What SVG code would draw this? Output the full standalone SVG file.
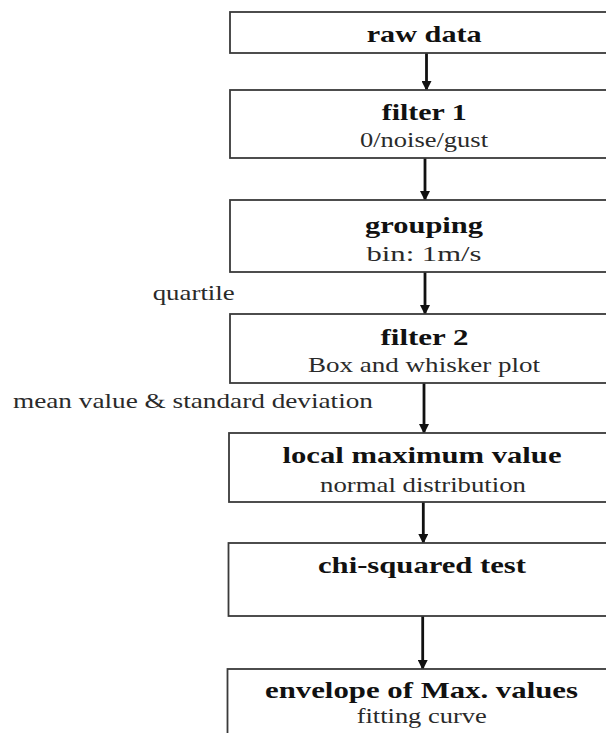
<svg xmlns="http://www.w3.org/2000/svg" width="606" height="733" viewBox="0 0 606 733">
  <style>
    .box { fill: #ffffff; stroke: #3a3a3a; stroke-width: 1.8; }
    .title { font-family: "Liberation Serif", serif; font-weight: bold; font-size: 24px; fill: #111; text-anchor: middle; }
    .sub { font-family: "Liberation Serif", serif; font-size: 22px; fill: #2a2a2a; text-anchor: middle; }
    .note { font-family: "Liberation Serif", serif; font-size: 22px; fill: #2a2a2a; }
    .link { stroke: #111; stroke-width: 2.8; fill: none; marker-end: url(#head); }
  </style>
  <defs>
    <marker id="head" viewBox="0 0 10 10" refX="9" refY="5" markerUnits="userSpaceOnUse" markerWidth="10" markerHeight="10" orient="auto">
      <path d="M0,0 L10,5 L0,10 z" fill="#111"/>
    </marker>
  </defs>
  <rect width="606" height="733" fill="#ffffff"/>

  <g id="connectors">
    <line class="link" x1="426.5" y1="53" x2="426.5" y2="90"/>
    <line class="link" x1="425" y1="158" x2="425" y2="200"/>
    <line class="link" x1="425" y1="272" x2="425" y2="314"/>
    <line class="link" x1="424" y1="383" x2="424" y2="433"/>
    <line class="link" x1="423.3" y1="502" x2="423.3" y2="543"/>
    <line class="link" x1="422.7" y1="616" x2="422.7" y2="669"/>
  </g>

  <g id="labels">
    <text class="note" x="152.7" y="300" textLength="82" lengthAdjust="spacingAndGlyphs">quartile</text>
    <text class="note" x="13" y="408" textLength="360" lengthAdjust="spacingAndGlyphs">mean value &amp; standard deviation</text>
  </g>

  <g id="raw-data">
    <rect class="box" x="230" y="12" width="400" height="41"/>
    <text class="title" x="424.2" y="42" textLength="115" lengthAdjust="spacingAndGlyphs">raw data</text>
  </g>

  <g id="filter-1">
    <rect class="box" x="230" y="90" width="400" height="68"/>
    <text class="title" x="424.2" y="120" textLength="85" lengthAdjust="spacingAndGlyphs">filter 1</text>
    <text class="sub" x="424" y="147" textLength="128" lengthAdjust="spacingAndGlyphs">0/noise/gust</text>
  </g>

  <g id="grouping">
    <rect class="box" x="230" y="200" width="400" height="72"/>
    <text class="title" x="424" y="233" textLength="118" lengthAdjust="spacingAndGlyphs">grouping</text>
    <text class="sub" x="424" y="261" textLength="115" lengthAdjust="spacingAndGlyphs">bin: 1m/s</text>
  </g>

  <g id="filter-2">
    <rect class="box" x="230" y="314" width="400" height="69"/>
    <text class="title" x="424.5" y="345" textLength="88" lengthAdjust="spacingAndGlyphs">filter 2</text>
    <text class="sub" x="424" y="372" textLength="232" lengthAdjust="spacingAndGlyphs">Box and whisker plot</text>
  </g>

  <g id="local-maximum">
    <rect class="box" x="229" y="433" width="400" height="69"/>
    <text class="title" x="422" y="463" textLength="279" lengthAdjust="spacingAndGlyphs">local maximum value</text>
    <text class="sub" x="423" y="492" textLength="206" lengthAdjust="spacingAndGlyphs">normal distribution</text>
  </g>

  <g id="chi-squared">
    <rect class="box" x="228.5" y="543" width="400" height="73"/>
    <text class="title" x="422" y="573" textLength="208" lengthAdjust="spacingAndGlyphs">chi-squared test</text>
  </g>

  <g id="envelope">
    <rect class="box" x="227.5" y="669" width="400" height="80"/>
    <text class="title" x="421.5" y="698" textLength="313" lengthAdjust="spacingAndGlyphs">envelope of Max. values</text>
    <text class="sub" x="421.7" y="723" textLength="130" lengthAdjust="spacingAndGlyphs">fitting curve</text>
  </g>
</svg>
